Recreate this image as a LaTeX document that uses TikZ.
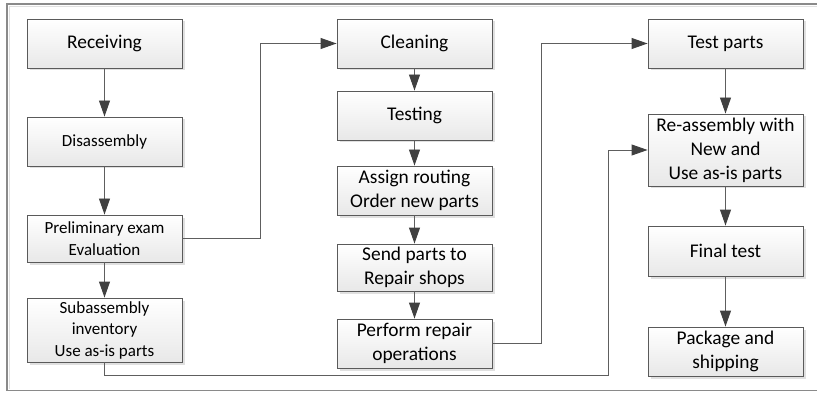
\documentclass[tikz,border=0pt]{standalone}
\usepackage{fontspec}
\setmainfont{Carlito}
\usetikzlibrary{arrows.meta,shadows}
\definecolor{edge}{HTML}{5A5A5A}
\definecolor{wire}{HTML}{5E5E5E}
\definecolor{tip}{HTML}{404040}
\definecolor{frame}{HTML}{8A8A8A}
\tikzset{
  stepbox/.style={draw=edge, line width=0.9pt, top color=white, bottom color=black!9,
    minimum width=155pt, inner sep=0pt, align=center,
    font=\fontsize{19.4}{24}\selectfont,
    drop shadow={shadow xshift=2.5pt, shadow yshift=-2.5pt, fill=black!22, opacity=0.55}},
  smallbox/.style={stepbox, font=\fontsize{17}{21.5}\selectfont},
  flow/.style={draw=wire, line width=0.9pt, -{Triangle[length=16pt,width=11pt,color=tip]}},
}
\begin{document}
\begin{tikzpicture}[x=1pt,y=-1pt]
  \useasboundingbox (0,0) rectangle (817,393);
  % outer frame (right side runs past the page edge)
  \draw[black!12, line width=0.8pt] (9,389) -- (9,6.5) -- (825,6.5);
  \draw[frame, line width=1.1pt] (825,4) -- (7,4) -- (7,390.5) -- (825,390.5);

  % first column
  \node[stepbox, minimum height=49pt] (rec) at (104.5,43.5) {Receiving};
  \node[smallbox, minimum height=49pt] (dis) at (104.5,141.5) {Disassembly};
  \node[smallbox, minimum height=47pt] (pre) at (104.5,238.5) {Preliminary exam\\Evaluation};
  \node[smallbox, minimum height=64pt] (sub) at (104.5,330) {Subassembly\\inventory\\Use as-is parts};

  % second column
  \node[stepbox, minimum height=49pt] (cle) at (414.5,43.5) {Cleaning};
  \node[stepbox, minimum height=49pt] (tst) at (414.5,115.5) {Testing};
  \node[stepbox, minimum height=49pt] (asg) at (414.5,190.5) {Assign routing\\Order new parts};
  \node[stepbox, minimum height=47pt] (snd) at (414.5,267.5) {Send parts to\\Repair shops};
  \node[stepbox, minimum height=49pt] (prf) at (414.5,343.5) {Perform repair\\operations};

  % third column
  \node[stepbox, minimum height=49pt] (tpa) at (725.5,43.5) {Test parts};
  \node[stepbox, minimum height=72pt] (rea) at (725.5,150) {Re-assembly with\\New and\\Use as-is parts};
  \node[stepbox, minimum height=50pt] (fin) at (725.5,251) {Final test};
  \node[stepbox, minimum height=49pt] (pkg) at (725.5,351.5) {Package and\\shipping};

  % bend points of the routed connectors
  \coordinate (j1) at (260,0);
  \coordinate (j2) at (541.5,0);
  \coordinate (j3) at (608,375.5);

  % straight links
  \draw[flow] (rec) -- (dis);
  \draw[flow] (dis) -- (pre);
  \draw[flow] (pre) -- (sub);
  \draw[flow] (cle) -- (tst);
  \draw[flow] (tst) -- (asg);
  \draw[flow] (asg) -- (snd);
  \draw[flow] (snd) -- (prf);
  \draw[flow] (tpa) -- (rea);
  \draw[flow] (rea) -- (fin);
  \draw[flow] (fin) -- (pkg);

  % routed links
  \draw[flow] (pre.east) -- (pre.east -| j1) |- (cle.west);
  \draw[flow] (prf.east) -- (prf.east -| j2) |- (tpa.west);
  \draw[flow] (sub.south) |- (j3) |- (rea.west);
\end{tikzpicture}
\end{document}
